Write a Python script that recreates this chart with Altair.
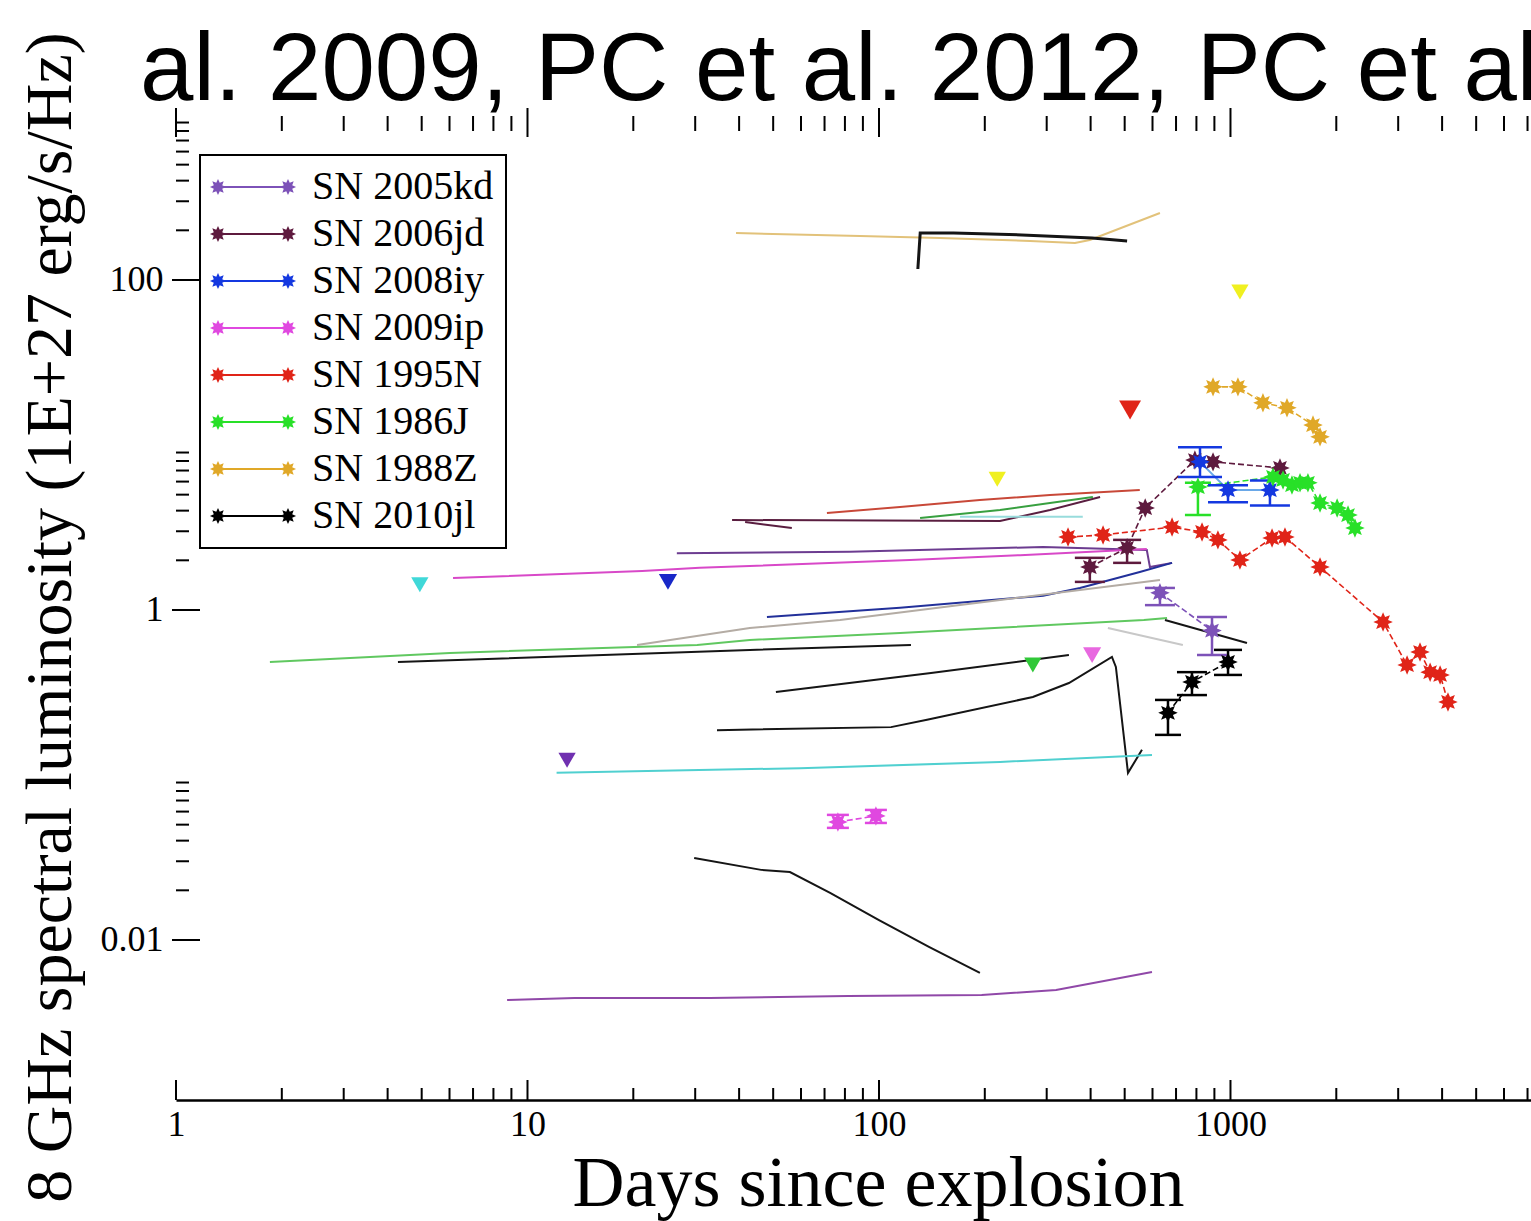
import math
import altair as alt
import pandas as pd

# ---------------- text ----------------
TITLE = "al. 2009, PC et al. 2012, PC et al. 2015"
X_TITLE = "Days since explosion"
Y_TITLE = "8 GHz spectral luminosity (1E+27 erg/s/Hz)"
SERIF = "Liberation Serif"
SANS = "Liberation Sans"

# ---------------- axes ----------------
X_DOMAIN = [1, 7161]
Y_DOMAIN = [0.001072, 1072]
X_LABELS = [1, 10, 100, 1000]
Y_LABELS = [0.01, 1, 100]
X_DECADES = [1, 10, 100, 1000]
Y_MINOR_DECADES = [0.01, 1, 100]
MINOR_MULT = [2, 3, 4, 5, 6, 7, 8, 9]

# ---------------- observed light curves ----------------
SN_NAMES = ["SN 2005kd", "SN 2006jd", "SN 2008iy", "SN 2009ip",
            "SN 1995N", "SN 1986J", "SN 1988Z", "SN 2010jl"]
SN_COLORS = ["#7d52b8", "#5e1a3e", "#1438e0", "#e048e0",
             "#e02418", "#28e028", "#e0a828", "#000000"]

D_2005KD = [630, 886]
L_2005KD = [1.27, 0.75]
D_2006JD = [398, 508, 572, 792, 892, 1383]
L_2006JD = [1.82, 2.38, 4.15, 8.1, 7.9, 7.26]
D_2008IY = [819, 984, 1295]
L_2008IY = [7.9, 5.33, 5.33]
D_2009IP = [76.4, 98]
L_2009IP = [0.0519, 0.0565]
D_1995N = [345, 434, 682, 830, 921, 1064, 1313, 1429, 1798, 2717, 3180, 3461, 3698, 3948, 4157]
L_1995N = [2.77, 2.85, 3.18, 2.97, 2.66, 2.01, 2.73, 2.77, 1.82, 0.845, 0.464, 0.556, 0.42, 0.404, 0.277]
D_1986J = [808, 1321, 1411, 1496, 1577, 1661, 1798, 2011, 2160, 2260]
L_1986J = [5.56, 6.4, 6.14, 5.72, 5.9, 5.9, 4.45, 4.15, 3.76, 3.14]
D_1988Z = [892, 1050, 1237, 1448, 1717, 1798]
L_1988Z = [22.5, 22.5, 18.0, 16.8, 13.2, 11.2]
D_2010JL = [664, 777, 984]
L_2010JL = [0.238, 0.366, 0.484]

# error bars: (series, day, low, high, cap width)
E_SN = ["SN 2005kd", "SN 2005kd", "SN 2006jd", "SN 2006jd", "SN 2008iy", "SN 2008iy", "SN 2008iy",
        "SN 2009ip", "SN 2009ip", "SN 1986J", "SN 2010jl", "SN 2010jl", "SN 2010jl"]
E_DAY = [630, 886, 398, 508, 819, 984, 1295, 76.4, 98, 808, 664, 777, 984]
E_LO = [1.07, 0.533, 1.48, 1.93, 6.4, 4.5, 4.3, 0.0478, 0.0512, 3.77, 0.175, 0.305, 0.404]
E_HI = [1.36, 0.908, 2.07, 2.66, 9.7, 5.7, 6.1, 0.0573, 0.0614, 5.9, 0.285, 0.42, 0.573]
E_CAP = [30, 30, 30, 28, 44, 40, 40, 22, 22, 26, 26, 30, 28]

# upper limits (down triangles)
UL_DAYS = [4.94, 12.96, 25.1, 217, 274, 404, 518, 1064]
UL_LUM = [1.42, 0.123, 1.48, 6.2, 0.464, 0.533, 16.3, 84.6]
UL_COLORS = ["#40d8d8", "#7030b0", "#1828c8", "#f0f020", "#30c838", "#e868e0", "#e02418", "#f0f020"]
UL_SIZES = [300, 300, 330, 300, 300, 330, 480, 300]

# ---------------- model curves ----------------
M_GOLD_D = [39.2, 88.3, 149, 269, 361, 398, 630]
M_GOLD_L = [192.6, 184.8, 179.8, 172.3, 167.5, 174.8, 254.6]
M_BLACKTOP_D = [129, 131, 163, 255, 404, 508]
M_BLACKTOP_L = [116.6, 192.6, 192.6, 187.4, 179.8, 172.3]
M_RED_D = [71.1, 114.8, 193.7, 306.6, 552]
M_RED_L = [3.87, 4.21, 4.64, 4.98, 5.34]
M_MAROON_D = [38.2, 221, 306.6, 425.6]
M_MAROON_L = [3.51, 3.46, 4.04, 4.84]
M_MAROON2_D = [41.6, 56.5]
M_MAROON2_L = [3.41, 3.14]
M_GREEN_D = [130.9, 221, 406]
M_GREEN_L = [3.61, 4.04, 4.84]
M_TEAL_D = [170, 380]
M_TEAL_L = [3.67, 3.67]
M_PURPLE_D = [26.6, 82.7, 293, 578, 590, 682]
M_PURPLE_L = [2.21, 2.25, 2.41, 2.31, 1.82, 1.93]
M_MAGENTA_D = [6.14, 21.2, 30.9, 122.5, 252, 578]
M_MAGENTA_L = [1.56, 1.72, 1.80, 2.01, 2.15, 2.34]
M_BLUE_D = [48.0, 114.8, 293, 373, 552, 682]
M_BLUE_L = [0.908, 1.03, 1.22, 1.36, 1.70, 1.93]
M_GREY_D = [20.5, 42.9, 77.5, 221, 630]
M_GREY_L = [0.614, 0.778, 0.869, 1.15, 1.52]
M_GREEN2_D = [1.85, 6.02, 30.4, 42.9, 114.8, 567, 660]
M_GREEN2_L = [0.484, 0.549, 0.614, 0.658, 0.726, 0.869, 0.895]
M_BLACK1_D = [4.28, 42.9, 123.3]
M_BLACK1_L = [0.484, 0.573, 0.614]
M_BLACK2_D = [50.9, 140.6, 347]
M_BLACK2_L = [0.318, 0.415, 0.533]
M_BLACK3_D = [34.6, 108.2, 137, 274, 347, 460, 472, 511, 560]
M_BLACK3_L = [0.187, 0.195, 0.216, 0.297, 0.361, 0.519, 0.452, 0.103, 0.142]
M_CYAN_D = [12.1, 59.6, 221, 598]
M_CYAN_L = [0.103, 0.110, 0.120, 0.132]
M_BLACK4_D = [29.8, 46.2, 55.8, 72.6, 100, 138.7, 193.7]
M_BLACK4_L = [0.0314, 0.0266, 0.0258, 0.0193, 0.0132, 0.00908, 0.00631]
M_VIOLET_D = [8.75, 13.6, 33.0, 81.6, 196, 319, 598]
M_VIOLET_L = [0.00433, 0.00445, 0.00445, 0.00458, 0.00464, 0.00498, 0.00640]
M_BLACK5_D = [651, 1114]
M_BLACK5_L = [0.869, 0.631]
M_LTGREY_D = [448, 732]
M_LTGREY_L = [0.778, 0.614]
M_2008IY_D = D_2008IY
M_2008IY_L = L_2008IY

MODELS = [
    ("gold", "#e2c27a", 2, M_GOLD_D, M_GOLD_L),
    ("blacktop", "#151515", 3, M_BLACKTOP_D, M_BLACKTOP_L),
    ("red", "#c84838", 2, M_RED_D, M_RED_L),
    ("maroon", "#5a1e40", 2, M_MAROON_D, M_MAROON_L),
    ("maroon2", "#5a1e40", 2, M_MAROON2_D, M_MAROON2_L),
    ("green", "#38a040", 2, M_GREEN_D, M_GREEN_L),
    ("teal", "#98dcdc", 2, M_TEAL_D, M_TEAL_L),
    ("purple", "#6c3c90", 2, M_PURPLE_D, M_PURPLE_L),
    ("magenta", "#d848c8", 2, M_MAGENTA_D, M_MAGENTA_L),
    ("blue", "#22309a", 2, M_BLUE_D, M_BLUE_L),
    ("grey", "#b4aca4", 2, M_GREY_D, M_GREY_L),
    ("green2", "#60c860", 2, M_GREEN2_D, M_GREEN2_L),
    ("black1", "#151515", 2, M_BLACK1_D, M_BLACK1_L),
    ("black2", "#151515", 2, M_BLACK2_D, M_BLACK2_L),
    ("black3", "#151515", 2, M_BLACK3_D, M_BLACK3_L),
    ("cyan", "#50d0d0", 2, M_CYAN_D, M_CYAN_L),
    ("black4", "#151515", 2, M_BLACK4_D, M_BLACK4_L),
    ("violet", "#9048a8", 2, M_VIOLET_D, M_VIOLET_L),
    ("black5", "#151515", 2, M_BLACK5_D, M_BLACK5_L),
    ("ltgrey", "#c8c8c8", 2, M_LTGREY_D, M_LTGREY_L),
    ("iy", "#6aa8e8", 2, M_2008IY_D, M_2008IY_L),
]

SERIES = [
    ("SN 2005kd", D_2005KD, L_2005KD), ("SN 2006jd", D_2006JD, L_2006JD),
    ("SN 2008iy", D_2008IY, L_2008IY), ("SN 2009ip", D_2009IP, L_2009IP),
    ("SN 1995N", D_1995N, L_1995N), ("SN 1986J", D_1986J, L_1986J),
    ("SN 1988Z", D_1988Z, L_1988Z), ("SN 2010jl", D_2010JL, L_2010JL),
]

# ---------------- geometry / style ----------------
PLOT_W = 1355
PLOT_H = 990


def star(cx, r_out=1.0, r_in=0.55, n=8):
    pts = []
    for k in range(2 * n):
        a = math.pi * k / n - math.pi / 2
        r = r_out if k % 2 == 0 else r_in
        pts.append(f"{cx + r * math.cos(a):.3f},{r * math.sin(a):.3f}")
    return "M" + "L".join(pts) + "Z"


STAR = star(0)
LEGEND_SYM = star(-10, 1.15, 0.65) + "M-10,-0.15L0,-0.15L0,0.15L-10,0.15Z" + star(0, 1.15, 0.65)

# ---------------- tables ----------------
model_rows = []
for mid, col, w, ds, ls in MODELS:
    for k, (d, l) in enumerate(zip(ds, ls)):
        model_rows.append({"id": mid, "c": col, "w": w, "k": k, "day": d, "lum": l})
model_df = pd.DataFrame(model_rows)

pt_rows = []
for name, ds, ls in SERIES:
    for k, (d, l) in enumerate(zip(ds, ls)):
        pt_rows.append({"sn": name, "k": k, "day": d, "lum": l})
pt_df = pd.DataFrame(pt_rows)
line_df = pt_df[pt_df["sn"] != "SN 2008iy"]

err_df = pd.DataFrame({"sn": E_SN, "day": E_DAY, "lo": E_LO, "hi": E_HI, "cap": E_CAP})
cap_df = pd.concat([
    err_df[["sn", "day", "cap"]].assign(y=err_df["lo"]),
    err_df[["sn", "day", "cap"]].assign(y=err_df["hi"]),
])
ul_df = pd.DataFrame({"day": UL_DAYS, "lum": UL_LUM, "c": UL_COLORS, "s": UL_SIZES})

x_major = pd.DataFrame({"v": X_DECADES})
x_minor = pd.DataFrame({"v": [m * d for d in X_DECADES for m in MINOR_MULT if m * d < X_DOMAIN[1]]})
y_major = pd.DataFrame({"v": Y_LABELS})
y_minor = pd.DataFrame({"v": [m * d for d in Y_MINOR_DECADES for m in MINOR_MULT]})

xs = alt.Scale(type="log", domain=X_DOMAIN, nice=False)
ys = alt.Scale(type="log", domain=Y_DOMAIN, nice=False)
cs = alt.Scale(domain=SN_NAMES, range=SN_COLORS)

X_AX = alt.Axis(values=X_LABELS, format="~g", ticks=False, tickSize=0, grid=False,
                domain=True, domainColor="black", domainWidth=2.5,
                labelFont=SERIF, labelFontSize=36, labelColor="black", labelPadding=7,
                labelFlush=False, labelOverlap=False,
                title=X_TITLE, titleFont=SERIF, titleFontSize=72, titleFontWeight="normal",
                titleColor="black", titleX=702, titleY=105, titleAlign="center",
                titleBaseline="alphabetic")
Y_AX = alt.Axis(values=Y_LABELS, format="~g", ticks=False, tickSize=0, grid=False,
                domain=False, labelFont=SERIF, labelFontSize=36, labelColor="black",
                labelPadding=13, labelFlush=False, labelOverlap=False,
                title=Y_TITLE, titleFont=SERIF, titleFontSize=66, titleFontWeight="normal",
                titleColor="black", titleAngle=270, titleX=-106, titleY=507,
                titleAlign="center", titleBaseline="alphabetic")

LEGEND = alt.Legend(
    title=None, orient="none", legendX=24, legendY=45,
    symbolType=LEGEND_SYM, symbolSize=196, symbolStrokeWidth=0, symbolOpacity=1,
    symbolOffset=56, labelOffset=4, labelLimit=500,
    labelFont=SERIF, labelFontSize=40, labelColor="black",
    rowPadding=7, padding=12, strokeColor="black")


def X(f):
    return alt.X(f, scale=xs, axis=X_AX)


def Y(f):
    return alt.Y(f, scale=ys, axis=Y_AX)


def C(f):
    return alt.Color(f, scale=cs, legend=LEGEND)


# tick marks drawn inward
t_bx_major = alt.Chart(x_major).mark_rule(color="black", strokeWidth=2).encode(
    x=X("v:Q"), y=alt.value(PLOT_H), y2=alt.value(PLOT_H - 20))
t_bx_minor = alt.Chart(x_minor).mark_rule(color="black", strokeWidth=2).encode(
    x=X("v:Q"), y=alt.value(PLOT_H), y2=alt.value(PLOT_H - 12))
t_tx_major = alt.Chart(x_major).mark_rule(color="black", strokeWidth=2).encode(
    x=X("v:Q"), y=alt.value(-2), y2=alt.value(27))
t_tx_minor = alt.Chart(x_minor).mark_rule(color="black", strokeWidth=2).encode(
    x=X("v:Q"), y=alt.value(6), y2=alt.value(21))
t_ly_major = alt.Chart(y_major).mark_rule(color="black", strokeWidth=2).encode(
    y=Y("v:Q"), x=alt.value(-4), x2=alt.value(24))
t_ly_minor = alt.Chart(y_minor).mark_rule(color="black", strokeWidth=2).encode(
    y=Y("v:Q"), x=alt.value(0), x2=alt.value(13))

models = alt.Chart(model_df).mark_line().encode(
    x=X("day:Q"), y=Y("lum:Q"), detail="id:N", order="k:Q",
    stroke=alt.Stroke("c:N", scale=None),
    strokeWidth=alt.StrokeWidth("w:Q", scale=None))

sn_lines = alt.Chart(line_df).mark_line(strokeWidth=1.6, strokeDash=[6, 3]).encode(
    x=X("day:Q"), y=Y("lum:Q"), detail="sn:N", order="k:Q", color=C("sn:N"))

err = alt.Chart(err_df).mark_rule(strokeWidth=2.5).encode(
    x=X("day:Q"), y=Y("lo:Q"), y2="hi:Q", color=C("sn:N"))
caps = alt.Chart(cap_df).mark_tick(orient="horizontal", thickness=2.5, opacity=1).encode(
    x=X("day:Q"), y=Y("y:Q"), size=alt.Size("cap:Q", scale=None), color=C("sn:N"))

uls = alt.Chart(ul_df).mark_point(shape="triangle-down", filled=True, opacity=1, strokeWidth=0).encode(
    x=X("day:Q"), y=Y("lum:Q"),
    fill=alt.Fill("c:N", scale=None),
    size=alt.Size("s:Q", scale=None))

stars = alt.Chart(pt_df).mark_point(shape=STAR, filled=True, opacity=1, size=380, strokeWidth=0).encode(
    x=X("day:Q"), y=Y("lum:Q"), color=C("sn:N"))

chart = alt.layer(
    t_bx_major, t_bx_minor, t_tx_major, t_tx_minor, t_ly_major, t_ly_minor,
    models, sn_lines, err, caps, uls, stars,
).properties(
    width=PLOT_W, height=PLOT_H,
    autosize=alt.AutoSizeParams(type="none"),
    padding={"left": 176, "top": 110, "right": 0, "bottom": 121},
    title=alt.TitleParams(text=TITLE, anchor="start", frame="group", dx=-36, dy=167, offset=3,
                          baseline="alphabetic", font=SANS, fontSize=96,
                          fontWeight="normal", color="black"),
    background="white",
).configure_view(strokeWidth=0).configure_legend(strokeWidth=2)

chart.save("out.html", embed_options={"renderer": "svg", "actions": False})
